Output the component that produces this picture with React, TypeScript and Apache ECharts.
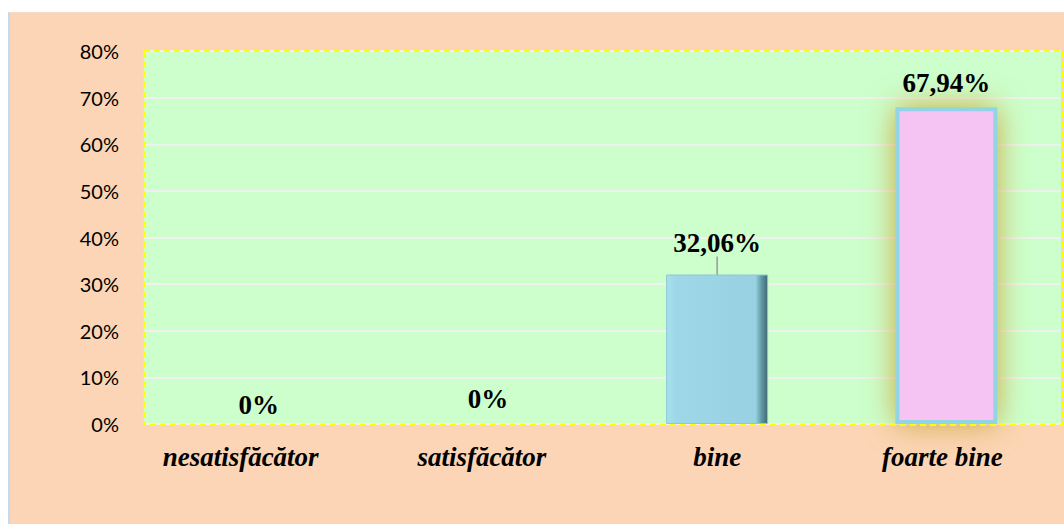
import React, { useEffect, useRef } from "react";
import * as echarts from "echarts";

const categories = ["nesatisfăcător", "satisfăcător", "bine", "foarte bine"];
const values = [0, 0, 32.06, 67.94];
const yTicks = { min: 0, max: 80, interval: 10 };

const fmt = (v: number) => (v === 0 ? "0%" : v.toFixed(2).replace(".", ",") + "%");

export default function App() {
  const ref = useRef<HTMLDivElement>(null);
  useEffect(() => {
    if (!ref.current) return;
    const chart = echarts.init(ref.current, null, { renderer: "svg" });
    const blueFill = new echarts.graphic.LinearGradient(0, 0, 1, 0, [
      { offset: 0, color: "#a6e0ee" },
      { offset: 0.1, color: "#9ed8e8" },
      { offset: 0.88, color: "#98d2e2" },
      { offset: 0.94, color: "#5f98a4" },
      { offset: 1, color: "#3f6a74" },
    ]);
    const labelBase = {
      show: true,
      position: "top" as const,
      fontFamily: "Liberation Serif",
      fontWeight: "bold" as const,
      fontSize: 27,
      color: "#000",
      formatter: (p: any) => fmt(p.value),
    };
    const data = values.map((v, i) => {
      if (i === 0) return { value: v, label: { ...labelBase, distance: 6, offset: [-18, 0] } };
      if (i === 1) return { value: v, label: { ...labelBase, distance: 12 } };
      if (i === 2)
        return {
          value: v,
          label: { ...labelBase, distance: 8 },
          labelLine: { show: true, lineStyle: { color: "#999", width: 1.5 } },
          itemStyle: { color: blueFill, borderColor: "#8cc8d8", borderWidth: 1 },
        };
      return {
        value: v,
        label: { ...labelBase, distance: 11 },
        itemStyle: {
          color: "#f5c4f3",
          borderColor: "#92d3e4",
          borderWidth: 4,
          shadowBlur: 30,
          shadowColor: "rgba(205,168,60,1)",
          shadowOffsetX: 0,
          shadowOffsetY: 0,
        },
      };
    });
    const shifts = [36, 12, 0, 8];
    const rich: any = {};
    shifts.forEach((s, i) => {
      rich["c" + i] = {
        fontFamily: "Liberation Serif",
        fontStyle: "italic",
        fontWeight: "bold",
        fontSize: 27,
        color: "#000",
        padding: [0, s, 0, 0],
      };
    });
    chart.setOption({
      animation: false,
      backgroundColor: "#fbd5b5",
      grid: {
        left: 134,
        top: 38,
        right: 3,
        bottom: 100,
        show: true,
        backgroundColor: "#ccffcc",
        borderWidth: 0,
      },
      xAxis: {
        type: "category",
        data: categories,
        axisTick: { show: false },
        axisLine: { show: false },
        axisLabel: {
          margin: 19,
          formatter: (val: string, idx: number) => `{c${idx}|${val}}`,
          rich,
        },
      },
      yAxis: {
        type: "value",
        min: yTicks.min,
        max: yTicks.max,
        interval: yTicks.interval,
        axisLine: { show: false },
        axisTick: { show: false },
        splitLine: { lineStyle: { color: "#f0f0ee", width: 2 } },
        axisLabel: {
          formatter: "{value}%",
          margin: 25,
          fontFamily: "Lato",
          fontSize: 20,
          color: "#000",
        },
      },
      graphic: [
        {
          type: "rect",
          z: 100,
          shape: { x: 134, y: 38, width: 919, height: 374 },
          style: { fill: "none", stroke: "#ffff00", lineWidth: 2, lineDash: [6, 4] },
          silent: true,
        },
      ],
      series: [
        {
          type: "bar",
          data,
          barWidth: 102,
          itemStyle: { color: "#9ed8e8" },
          labelLayout: (p: any) => (p.dataIndex === 2 ? { dy: -10 } : {}),
        },
      ],
    });
    return () => chart.dispose();
  }, []);
  return (
    <div
      ref={ref}
      style={{
        position: "absolute",
        left: 8,
        top: 12,
        width: 1056,
        height: 512,
        borderLeft: "2px solid #c4daf0",
        borderTop: "1px solid #f8dcc6",
        boxSizing: "border-box",
      }}
    />
  );
}
